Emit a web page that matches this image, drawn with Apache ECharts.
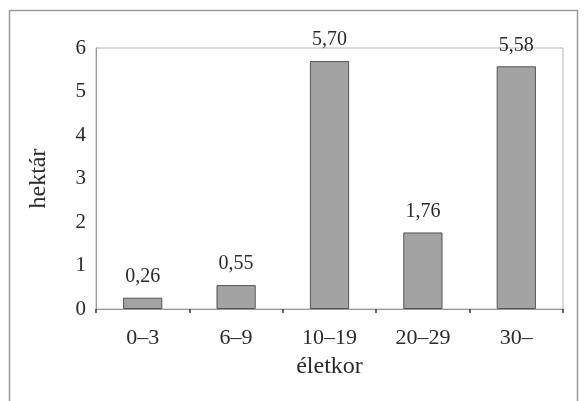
<!DOCTYPE html>
<html><head><meta charset="utf-8">
<script src="https://cdn.jsdelivr.net/npm/echarts@6/dist/echarts.min.js"></script>
<style>html,body{margin:0;padding:0;background:#fff}#c{width:585px;height:401px}</style>
</head><body><div id="c"></div>
<script>
const categories = ['0–3', '6–9', '10–19', '20–29', '30–'];
const values = [0.26, 0.55, 5.70, 1.76, 5.58];
const yTicks = [0, 1, 2, 3, 4, 5, 6];
const xTitle = 'életkor';
const yTitle = 'hektár';

const font = '"Liberation Serif", "DejaVu Serif", serif';
const chart = echarts.init(document.getElementById('c'));
chart.setOption({
  animation: false,
  backgroundColor: '#fff',
  textStyle: { fontFamily: font },
  graphic: [{
    type: 'rect', shape: { x: 9.5, y: 10.5, width: 568, height: 420 },
    style: { fill: 'none', stroke: '#9a9a9a', lineWidth: 1.5 }, z: -1
  }],
  grid: { left: 96, right: 22, top: 48, bottom: 92, show: true, borderColor: '#b5b5b5', borderWidth: 1 },
  xAxis: {
    type: 'category', data: categories,
    name: xTitle, nameLocation: 'middle', nameGap: 46,
    nameTextStyle: { fontFamily: font, fontSize: 24, color: '#2a2a2a' },
    axisLine: { lineStyle: { color: '#999', width: 1 } },
    axisTick: { show: true, length: 4, lineStyle: { color: '#333', width: 1.5 } },
    axisLabel: { fontFamily: font, fontSize: 22, color: '#2a2a2a', margin: 18 }
  },
  yAxis: {
    type: 'value', min: yTicks[0], max: yTicks[yTicks.length - 1], interval: 1,
    name: yTitle, nameLocation: 'middle', nameGap: 45, nameRotate: 90,
    nameTextStyle: { fontFamily: font, fontSize: 24, color: '#2a2a2a' },
    axisLine: { show: true, lineStyle: { color: '#999', width: 1 } },
    axisTick: { show: false },
    splitLine: { show: false },
    axisLabel: { fontFamily: font, fontSize: 21, color: '#2a2a2a', margin: 10 }
  },
  series: [{
    type: 'bar', data: values, barWidth: '42%',
    itemStyle: { color: '#a3a3a3', borderColor: '#555', borderWidth: 1 },
    label: {
      show: true, position: 'top', distance: 11,
      fontFamily: font, fontSize: 20, color: '#2a2a2a',
      formatter: p => p.value.toFixed(2).replace('.', ',')
    }
  }]
});
</script></body></html>
